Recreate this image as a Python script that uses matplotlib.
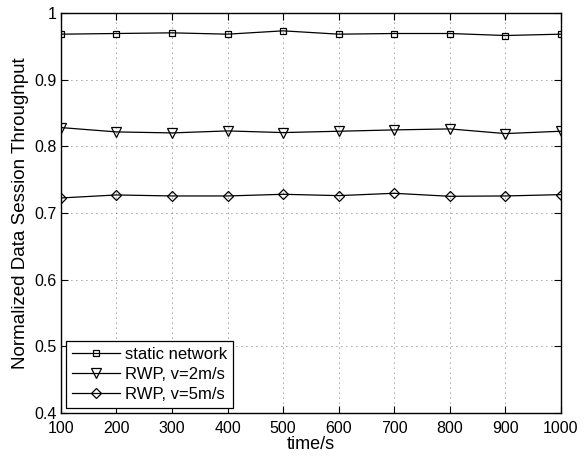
import matplotlib
matplotlib.use("Agg")
import matplotlib.pyplot as plt

plt.rcParams['font.family'] = ['Liberation Sans', 'DejaVu Sans']

time_s = [100, 200, 300, 400, 500, 600, 700, 800, 900, 1000]
static_network = [0.968, 0.969, 0.970, 0.968, 0.973, 0.968, 0.969, 0.969, 0.966, 0.968]
rwp_2 = [0.828, 0.8215, 0.820, 0.823, 0.8205, 0.8225, 0.8245, 0.826, 0.819, 0.8225]
rwp_5 = [0.7225, 0.727, 0.7255, 0.7255, 0.728, 0.726, 0.7295, 0.725, 0.7255, 0.7275]

fig = plt.figure(figsize=(5.86, 4.58), dpi=100)
ax = fig.add_axes([0.104, 0.098, 0.853, 0.874])

common = dict(color='black', lw=0.9, fillstyle='none', markeredgewidth=0.9)
ax.plot(time_s, static_network, marker='s', markersize=5, label='static network', **common)
ax.plot(time_s, rwp_2, marker='v', markersize=6.5, label='RWP, v=2m/s', **common)
ax.plot(time_s, rwp_5, marker='D', markersize=5.2, label='RWP, v=5m/s', **common)

ax.set_xlim(100, 1000)
ax.set_ylim(0.4, 1.0)
ax.set_xticks(range(100, 1001, 100))
ax.set_yticks([0.4, 0.5, 0.6, 0.7, 0.8, 0.9, 1.0])
ax.set_yticklabels(['0.4', '0.5', '0.6', '0.7', '0.8', '0.9', '1'])
ax.grid(True, linestyle=(0, (1, 5)), color='#444444', linewidth=0.6)
ax.tick_params(direction='in', top=True, right=True, labelsize=11.5, length=5, width=0.8)
ax.tick_params(axis='x', pad=6)
ax.tick_params(axis='y', pad=3)
for s in ax.spines.values():
    s.set_linewidth(1.0)

ax.set_xlabel('time/s', fontsize=13, labelpad=0)
ax.set_ylabel('Normalized Data Session Throughput', fontsize=13.5, labelpad=4)

leg = ax.legend(loc='lower left', fontsize=12, frameon=True, fancybox=False,
                edgecolor='black', framealpha=1, borderaxespad=0.3,
                handlelength=2.9, labelspacing=0.3, borderpad=0.35, handletextpad=0.3)
leg.get_frame().set_linewidth(0.9)

fig.savefig('out.png', dpi=100)
